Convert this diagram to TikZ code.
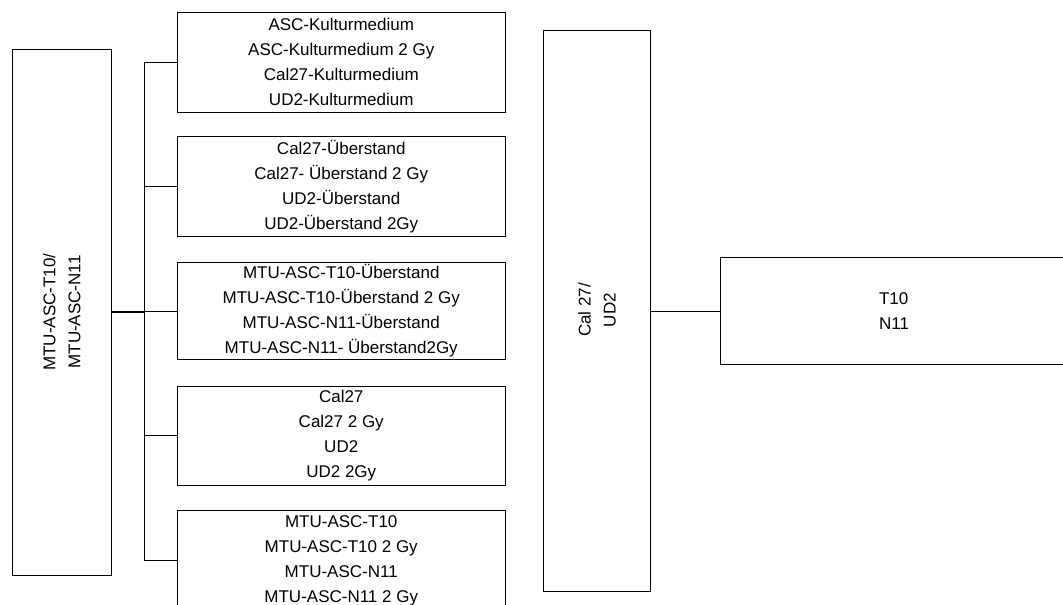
\documentclass[tikz,border=0pt]{standalone}
\usepackage{fontspec}
\setmainfont{Liberation Sans}
\begin{document}
\begin{tikzpicture}[x=1pt,y=-1pt,
  box/.style={draw=black,line width=1pt,rectangle,inner sep=0pt,align=center,
    font=\fontsize{17}{25}\selectfont},
  lbl/.style={inner sep=0pt,align=center,rotate=90,font=\fontsize{17}{25}\selectfont},
  conn/.style={draw=black,line width=1pt}]
\clip (0,0) rectangle (1063,605);
\useasboundingbox (0,0) rectangle (1063,605);
% left box
\node[box,minimum width=99.5pt,minimum height=526pt] (L) at (61.75,312) {};
\node[lbl] (Lt) at (61.75,312) {MTU-ASC-T10/\\MTU-ASC-N11};
% column boxes
\node[box,minimum width=327.5pt,minimum height=100pt] (B1) at (341.25,62) {ASC-Kulturmedium\\ASC-Kulturmedium 2 Gy\\Cal27-Kulturmedium\\UD2-Kulturmedium};
\node[box,minimum width=327.5pt,minimum height=100pt] (B2) at (341.25,186.5) {Cal27-Überstand\\Cal27- Überstand 2 Gy\\UD2-Überstand\\UD2-Überstand 2Gy};
\node[box,minimum width=327.5pt,minimum height=97pt] (B3) at (341.25,311) {MTU-ASC-T10-Überstand\\MTU-ASC-T10-Überstand 2 Gy\\MTU-ASC-N11-Überstand\\MTU-ASC-N11- Überstand2Gy};
\node[box,minimum width=327.5pt,minimum height=99pt] (B4) at (341.25,435.5) {Cal27\\Cal27 2 Gy\\UD2\\UD2 2Gy};
\node[box,minimum width=327.5pt,minimum height=100pt] (B5) at (341.25,560.5) {MTU-ASC-T10\\MTU-ASC-T10 2 Gy\\MTU-ASC-N11\\MTU-ASC-N11 2 Gy};
% middle box
\node[box,minimum width=107.5pt,minimum height=560.5pt] (M) at (597,311) {};
\node[lbl] (Mt) at (597,310) {Cal 27/\\UD2};
% right box
\node[box,minimum width=348pt,minimum height=106.5pt] (R) at (894,311) {};
\node[inner sep=0pt,align=left,font=\fontsize{17}{25}\selectfont] (Rt) at (894,311) {T10\\N11};
% connectors
\coordinate (J) at (144.5,312);
\draw[conn,line width=1.8pt] (L.east) -- (J);
\draw[conn] (B1.west) -- (B1.west -| J) -- (B5.west -| J) -- (B5.west);
\draw[conn] (B2.west) -- (B2.west -| J);
\draw[conn] (B3.west) -- (B3.west -| J);
\draw[conn] (B4.west) -- (B4.west -| J);
\draw[conn] (M.east) -- (R.west);
\end{tikzpicture}
\end{document}
